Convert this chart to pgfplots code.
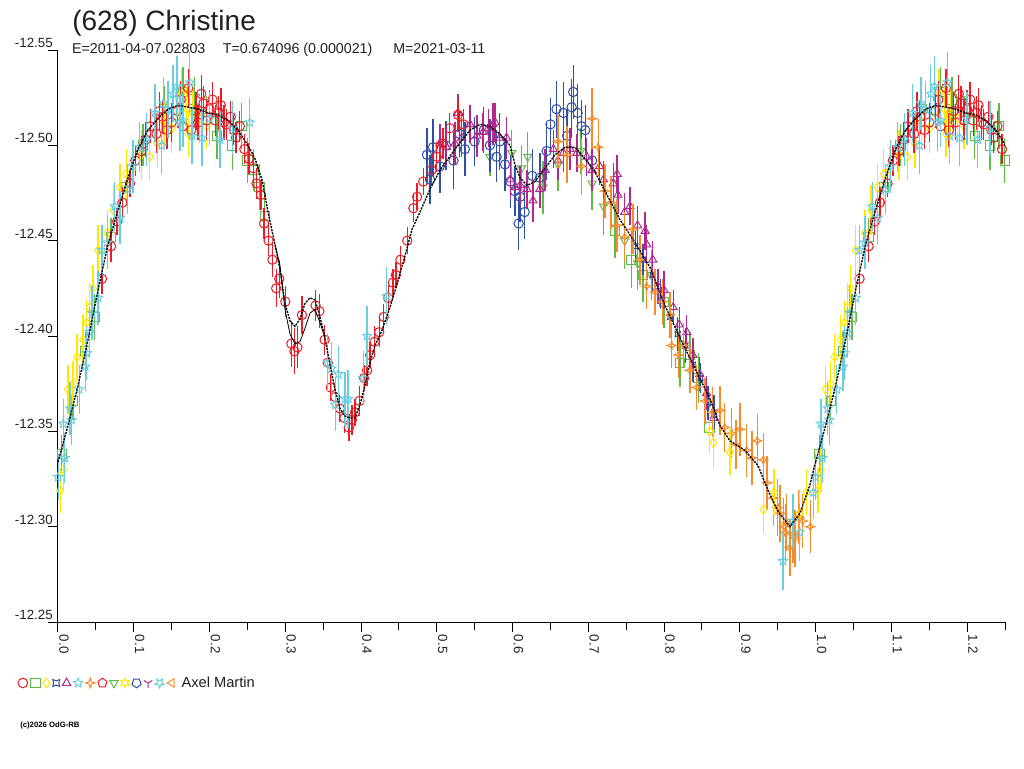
\documentclass[border=0pt]{standalone}
\usepackage{fontspec}
\setmainfont{Liberation Sans}
\usepackage{pgfplots}
\usepackage{pgfplotstable}
\pgfplotsset{compat=1.18}
\usetikzlibrary{plotmarks}

\definecolor{cred}{RGB}{237,28,36}
\definecolor{cgreen}{RGB}{96,187,70}
\definecolor{cyellow}{RGB}{255,232,0}
\definecolor{cblue}{RGB}{46,79,165}
\definecolor{cmag}{RGB}{178,40,140}
\definecolor{ccyan}{RGB}{107,204,222}
\definecolor{corange}{RGB}{247,139,42}
\definecolor{tdark}{RGB}{35,31,32}

\pgfdeclareplotmark{ostar}{%
  \pgfpathmoveto{\pgfpointpolar{90}{\pgfplotmarksize}}%
  \pgfpathlineto{\pgfpointpolar{126}{0.45\pgfplotmarksize}}%
  \pgfpathlineto{\pgfpointpolar{162}{\pgfplotmarksize}}%
  \pgfpathlineto{\pgfpointpolar{198}{0.45\pgfplotmarksize}}%
  \pgfpathlineto{\pgfpointpolar{234}{\pgfplotmarksize}}%
  \pgfpathlineto{\pgfpointpolar{270}{0.45\pgfplotmarksize}}%
  \pgfpathlineto{\pgfpointpolar{306}{\pgfplotmarksize}}%
  \pgfpathlineto{\pgfpointpolar{342}{0.45\pgfplotmarksize}}%
  \pgfpathlineto{\pgfpointpolar{18}{\pgfplotmarksize}}%
  \pgfpathlineto{\pgfpointpolar{54}{0.45\pgfplotmarksize}}%
  \pgfpathclose\pgfusepathqstroke}
\pgfdeclareplotmark{fstar}{%
  \pgfpathmoveto{\pgfpointpolar{90}{\pgfplotmarksize}}%
  \pgfpathlineto{\pgfpointpolar{135}{0.35\pgfplotmarksize}}%
  \pgfpathlineto{\pgfpointpolar{180}{\pgfplotmarksize}}%
  \pgfpathlineto{\pgfpointpolar{225}{0.35\pgfplotmarksize}}%
  \pgfpathlineto{\pgfpointpolar{270}{\pgfplotmarksize}}%
  \pgfpathlineto{\pgfpointpolar{315}{0.35\pgfplotmarksize}}%
  \pgfpathlineto{\pgfpointpolar{0}{\pgfplotmarksize}}%
  \pgfpathlineto{\pgfpointpolar{45}{0.35\pgfplotmarksize}}%
  \pgfpathclose\pgfusepathqstroke}
\pgfdeclareplotmark{sstar}{%
  \pgfpathmoveto{\pgfpointpolar{90}{\pgfplotmarksize}}%
  \pgfpathlineto{\pgfpointpolar{120}{0.5\pgfplotmarksize}}%
  \pgfpathlineto{\pgfpointpolar{150}{\pgfplotmarksize}}%
  \pgfpathlineto{\pgfpointpolar{180}{0.5\pgfplotmarksize}}%
  \pgfpathlineto{\pgfpointpolar{210}{\pgfplotmarksize}}%
  \pgfpathlineto{\pgfpointpolar{240}{0.5\pgfplotmarksize}}%
  \pgfpathlineto{\pgfpointpolar{270}{\pgfplotmarksize}}%
  \pgfpathlineto{\pgfpointpolar{300}{0.5\pgfplotmarksize}}%
  \pgfpathlineto{\pgfpointpolar{330}{\pgfplotmarksize}}%
  \pgfpathlineto{\pgfpointpolar{0}{0.5\pgfplotmarksize}}%
  \pgfpathlineto{\pgfpointpolar{30}{\pgfplotmarksize}}%
  \pgfpathlineto{\pgfpointpolar{60}{0.5\pgfplotmarksize}}%
  \pgfpathclose\pgfusepathqstroke}
\pgfdeclareplotmark{hglass}{%
  \pgfpathmoveto{\pgfpointpolar{45}{\pgfplotmarksize}}%
  \pgfpathlineto{\pgfpointpolar{90}{0.45\pgfplotmarksize}}%
  \pgfpathlineto{\pgfpointpolar{135}{\pgfplotmarksize}}%
  \pgfpathlineto{\pgfpointpolar{180}{0.55\pgfplotmarksize}}%
  \pgfpathlineto{\pgfpointpolar{225}{\pgfplotmarksize}}%
  \pgfpathlineto{\pgfpointpolar{270}{0.45\pgfplotmarksize}}%
  \pgfpathlineto{\pgfpointpolar{315}{\pgfplotmarksize}}%
  \pgfpathlineto{\pgfpointpolar{0}{0.55\pgfplotmarksize}}%
  \pgfpathclose\pgfusepathqstroke}

% ---------------- data: phase, magnitude, error ----------------
\pgfplotstableread{
x y e
0.058 -12.430 0.008
0.070 -12.447 0.008
0.078 -12.460 0.007
0.085 -12.470 0.008
0.095 -12.480 0.007
0.102 -12.492 0.008
0.110 -12.497 0.008
0.116 -12.503 0.009
0.122 -12.510 0.009
0.130 -12.506 0.010
0.134 -12.518 0.010
0.138 -12.515 0.009
0.144 -12.508 0.010
0.150 -12.512 0.010
0.158 -12.518 0.009
0.162 -12.524 0.010
0.165 -12.510 0.010
0.172 -12.530 0.010
0.176 -12.508 0.009
0.182 -12.518 0.010
0.185 -12.512 0.009
0.189 -12.527 0.010
0.192 -12.522 0.009
0.196 -12.513 0.010
0.200 -12.519 0.010
0.204 -12.524 0.009
0.208 -12.513 0.008
0.212 -12.517 0.009
0.215 -12.521 0.009
0.219 -12.512 0.009
0.222 -12.511 0.008
0.228 -12.515 0.008
0.232 -12.508 0.008
0.235 -12.504 0.008
0.240 -12.510 0.008
0.246 -12.498 0.008
0.252 -12.493 0.008
0.258 -12.488 0.008
0.262 -12.480 0.008
0.268 -12.474 0.008
0.272 -12.459 0.008
0.278 -12.450 0.008
0.283 -12.440 0.009
0.288 -12.425 0.010
0.292 -12.430 0.010
0.300 -12.418 0.008
0.308 -12.396 0.012
0.312 -12.392 0.012
0.316 -12.394 0.011
0.322 -12.411 0.010
0.340 -12.416 0.008
0.345 -12.413 0.009
0.352 -12.398 0.008
0.356 -12.386 0.008
0.360 -12.373 0.007
0.366 -12.368 0.008
0.372 -12.362 0.007
0.378 -12.357 0.008
0.384 -12.352 0.007
0.388 -12.356 0.008
0.392 -12.360 0.007
0.398 -12.366 0.008
0.404 -12.378 0.007
0.408 -12.382 0.008
0.412 -12.390 0.007
0.418 -12.397 0.008
0.424 -12.402 0.008
0.430 -12.410 0.007
0.436 -12.420 0.007
0.442 -12.428 0.007
0.446 -12.432 0.007
0.452 -12.440 0.007
0.461 -12.450 0.007
0.469 -12.467 0.007
0.474 -12.473 0.007
0.482 -12.481 0.007
0.493 -12.487 0.008
0.500 -12.494 0.008
0.508 -12.501 0.008
0.517 -12.509 0.008
0.528 -12.516 0.008
0.535 -12.511 0.008
}\tRed

\pgfplotstableread{
x y e
0.005 -12.338 0.010
0.020 -12.366 0.010
0.036 -12.392 0.010
0.048 -12.410 0.012
0.070 -12.452 0.010
0.090 -12.478 0.010
0.112 -12.500 0.011
0.140 -12.519 0.012
0.165 -12.528 0.013
0.180 -12.524 0.012
0.196 -12.514 0.012
0.210 -12.505 0.012
0.230 -12.500 0.013
0.242 -12.510 0.012
0.250 -12.492 0.012
0.258 -12.487 0.011
0.266 -12.478 0.012
0.273 -12.463 0.013
}\tGreen

\pgfplotstableread{
x y e
0.735 -12.455 0.014
0.757 -12.440 0.015
0.772 -12.432 0.014
0.800 -12.418 0.014
0.821 -12.386 0.013
0.834 -12.390 0.012
0.845 -12.378 0.013
0.860 -12.352 0.012
}\tGreenB

\pgfplotstableread{
x y e
0.570 -12.494 0.010
0.599 -12.496 0.012
0.612 -12.488 0.012
0.620 -12.494 0.013
0.640 -12.478 0.014
0.660 -12.490 0.014
0.690 -12.497 0.012
0.705 -12.480 0.014
0.720 -12.468 0.015
0.748 -12.450 0.015
0.765 -12.438 0.014
0.783 -12.432 0.013
}\tGreenT

\pgfplotstableread{
x y e
0.487 -12.495 0.014
0.491 -12.482 0.013
0.495 -12.499 0.015
0.504 -12.489 0.014
0.512 -12.500 0.013
0.522 -12.492 0.015
0.530 -12.506 0.012
0.537 -12.498 0.014
0.550 -12.502 0.013
0.562 -12.508 0.012
0.570 -12.500 0.014
0.579 -12.494 0.013
0.583 -12.502 0.015
0.590 -12.490 0.014
0.597 -12.481 0.014
0.603 -12.476 0.013
0.608 -12.459 0.014
0.610 -12.473 0.013
0.616 -12.465 0.014
0.626 -12.484 0.014
0.636 -12.483 0.013
0.645 -12.497 0.015
0.650 -12.511 0.014
0.658 -12.519 0.015
0.667 -12.517 0.016
0.672 -12.505 0.014
0.678 -12.520 0.015
0.680 -12.528 0.014
0.686 -12.517 0.015
0.691 -12.510 0.014
0.696 -12.508 0.013
0.705 -12.492 0.013
}\tBlue

\pgfplotstableread{
x y e
0.762 -12.447 0.008
0.772 -12.440 0.008
0.785 -12.432 0.009
0.795 -12.422 0.008
0.808 -12.410 0.008
0.818 -12.401 0.009
0.828 -12.395 0.009
0.838 -12.385 0.009
0.848 -12.378 0.008
0.858 -12.365 0.009
0.866 -12.360 0.009
}\tBlueB

\pgfplotstableread{
x y e
0.504 -12.501 0.010
0.513 -12.499 0.010
0.524 -12.501 0.011
0.528 -12.517 0.010
0.533 -12.504 0.010
0.544 -12.511 0.010
0.553 -12.505 0.011
0.561 -12.507 0.010
0.568 -12.509 0.010
0.574 -12.511 0.011
0.577 -12.512 0.010
0.583 -12.504 0.010
0.592 -12.504 0.011
0.597 -12.482 0.010
0.604 -12.478 0.010
0.610 -12.479 0.010
0.619 -12.477 0.010
0.627 -12.471 0.011
0.636 -12.477 0.010
0.643 -12.487 0.011
0.654 -12.498 0.010
0.660 -12.492 0.010
0.667 -12.496 0.010
0.676 -12.498 0.011
0.685 -12.496 0.010
0.698 -12.494 0.010
0.705 -12.487 0.011
0.715 -12.489 0.010
0.720 -12.482 0.010
0.733 -12.480 0.011
0.738 -12.485 0.010
0.739 -12.474 0.010
0.748 -12.465 0.010
0.755 -12.468 0.010
0.765 -12.458 0.010
0.775 -12.455 0.010
0.777 -12.448 0.010
0.785 -12.440 0.010
0.792 -12.426 0.009
0.800 -12.424 0.010
0.812 -12.415 0.009
0.820 -12.406 0.009
0.830 -12.402 0.009
0.838 -12.390 0.009
0.847 -12.380 0.009
0.856 -12.370 0.009
0.865 -12.357 0.009
}\tMag

\pgfplotstableread{
x y e
0.660 -12.502 0.014
0.672 -12.495 0.015
0.691 -12.489 0.015
0.705 -12.514 0.016
0.713 -12.499 0.015
0.722 -12.476 0.014
0.730 -12.470 0.014
0.738 -12.458 0.014
0.748 -12.452 0.013
0.759 -12.456 0.013
0.768 -12.440 0.013
0.777 -12.426 0.012
0.788 -12.423 0.012
0.798 -12.418 0.012
0.808 -12.411 0.012
0.810 -12.395 0.012
0.819 -12.390 0.012
0.826 -12.395 0.012
0.834 -12.382 0.012
0.843 -12.373 0.012
0.854 -12.366 0.012
0.864 -12.360 0.013
0.874 -12.361 0.013
0.880 -12.352 0.013
0.889 -12.349 0.013
0.895 -12.343 0.013
0.900 -12.351 0.014
0.909 -12.340 0.014
0.916 -12.336 0.014
0.923 -12.345 0.014
0.931 -12.335 0.014
0.936 -12.323 0.014
0.944 -12.315 0.014
0.950 -12.310 0.015
0.953 -12.307 0.015
0.958 -12.300 0.015
0.960 -12.297 0.015
0.962 -12.302 0.015
0.966 -12.289 0.015
0.970 -12.296 0.015
0.973 -12.294 0.015
0.978 -12.305 0.014
0.983 -12.303 0.014
0.993 -12.300 0.014
}\tOrange

\pgfplotstableread{
x y e
0.003 -12.319 0.012
0.007 -12.330 0.012
0.013 -12.372 0.013
0.020 -12.375 0.012
0.025 -12.389 0.012
0.033 -12.398 0.013
0.038 -12.407 0.012
0.042 -12.415 0.013
0.046 -12.425 0.012
0.053 -12.445 0.013
0.065 -12.454 0.012
0.073 -12.466 0.013
0.082 -12.478 0.012
0.090 -12.485 0.013
0.098 -12.487 0.012
0.110 -12.495 0.013
0.121 -12.494 0.012
0.131 -12.501 0.013
0.140 -12.512 0.012
0.150 -12.509 0.013
0.161 -12.515 0.012
0.163 -12.527 0.013
0.170 -12.519 0.012
0.172 -12.506 0.012
0.178 -12.517 0.013
0.187 -12.514 0.012
0.196 -12.510 0.012
}\tYellow

\pgfplotstableread{
x y e
0.860 -12.350 0.012
0.865 -12.344 0.013
0.887 -12.339 0.012
0.931 -12.309 0.013
0.945 -12.318 0.012
0.979 -12.307 0.013
0.988 -12.318 0.012
}\tYellowB

\pgfplotstableread{
x y e
0.000 -12.326 0.012
0.007 -12.354 0.013
0.009 -12.336 0.013
0.016 -12.362 0.014
0.018 -12.356 0.013
0.028 -12.372 0.013
0.036 -12.384 0.013
0.038 -12.391 0.014
0.042 -12.402 0.013
0.045 -12.412 0.014
0.053 -12.420 0.014
0.058 -12.445 0.013
0.065 -12.449 0.014
0.075 -12.468 0.013
0.082 -12.462 0.014
0.092 -12.477 0.013
0.099 -12.489 0.014
0.108 -12.499 0.013
0.117 -12.503 0.014
0.128 -12.517 0.015
0.137 -12.500 0.015
0.139 -12.522 0.014
0.145 -12.519 0.015
0.152 -12.527 0.015
0.157 -12.531 0.016
0.161 -12.512 0.015
0.165 -12.513 0.014
0.174 -12.533 0.016
0.177 -12.505 0.015
0.190 -12.504 0.015
0.200 -12.514 0.014
0.214 -12.503 0.015
0.230 -12.509 0.014
0.253 -12.512 0.013
}\tCyan

\pgfplotstableread{
x y e
0.356 -12.386 0.015
0.361 -12.383 0.014
0.366 -12.364 0.014
0.370 -12.380 0.015
0.379 -12.367 0.014
0.383 -12.367 0.015
0.403 -12.378 0.014
0.408 -12.400 0.016
0.434 -12.421 0.015
0.957 -12.282 0.015
0.970 -12.303 0.014
0.979 -12.297 0.015
0.997 -12.318 0.014
}\tCyanB

\pgfplotstableread{
x y
0.0000 -12.334
0.0132 -12.353
0.0264 -12.374
0.0396 -12.398
0.0528 -12.424
0.0660 -12.448
0.0792 -12.466
0.0924 -12.483
0.1056 -12.498
0.1188 -12.508
0.1320 -12.514
0.1452 -12.519
0.1584 -12.521
0.1716 -12.520
0.1848 -12.519
0.1980 -12.517
0.2112 -12.516
0.2244 -12.513
0.2376 -12.508
0.2508 -12.500
0.2600 -12.493
0.2693 -12.482
0.2772 -12.465
0.2864 -12.448
0.2930 -12.435
0.2996 -12.417
0.3062 -12.408
0.3128 -12.405
0.3194 -12.409
0.3260 -12.417
0.3326 -12.420
0.3392 -12.419
0.3458 -12.410
0.3524 -12.399
0.3590 -12.385
0.3656 -12.372
0.3722 -12.362
0.3788 -12.358
0.3854 -12.357
0.3920 -12.357
0.3986 -12.364
0.4052 -12.374
0.4118 -12.386
0.4184 -12.395
0.4277 -12.403
0.4382 -12.415
0.4488 -12.429
0.4580 -12.442
0.4673 -12.456
0.4778 -12.465
0.4910 -12.477
0.5042 -12.487
0.5240 -12.498
0.5438 -12.508
0.5570 -12.511
0.5702 -12.510
0.5834 -12.506
0.5966 -12.500
0.6032 -12.490
0.6098 -12.483
0.6191 -12.479
0.6296 -12.481
0.6428 -12.488
0.6560 -12.495
0.6692 -12.499
0.6824 -12.499
0.6956 -12.493
0.7088 -12.486
0.7220 -12.476
0.7418 -12.461
0.7616 -12.449
0.7814 -12.436
0.8012 -12.416
0.8210 -12.399
0.8408 -12.383
0.8606 -12.367
0.8738 -12.353
0.8870 -12.345
0.9068 -12.340
0.9240 -12.332
0.9372 -12.319
0.9504 -12.308
0.9662 -12.300
0.9794 -12.307
0.9926 -12.322
1.0000 -12.334
}\tFit

\pgfplotstableread{
x y
0.2864 -12.448
0.2930 -12.437
0.2996 -12.414
0.3062 -12.401
0.3128 -12.396
0.3194 -12.397
0.3260 -12.404
0.3326 -12.412
0.3392 -12.414
0.3458 -12.407
0.3524 -12.399
}\tFitB

\pgfplotsset{
  obs/.style={only marks, line width=0.75pt, mark size=3.5pt,
    mark options={solid, line width=0.75pt},
    error bars/y dir=both, error bars/y explicit, error bars/error mark=none,
    error bars/error bar style={line width=1pt, solid}},
  wrap/.style={restrict x to domain=1:1.252},
  limg/.style={only marks, mark size=3.6pt, line width=0.75pt, mark options={solid}},
}

\begin{document}
\begin{tikzpicture}
\path[use as bounding box] (0,0) rectangle (768pt,576pt);
\begin{axis}[
  at={(43.5pt,109.5pt)}, anchor=south west,
  scale only axis, width=710.25pt, height=429pt,
  xmin=0, xmax=1.25, ymin=-12.55, ymax=-12.25,
  y dir=reverse,
  axis x line*=bottom, axis y line*=left,
  axis line style={-, line width=0.75pt, black},
  tick align=outside,
  major tick length=7.5pt, minor tick length=6pt,
  tick style={line width=0.75pt, black},
  xtick={0,0.1,0.2,0.3,0.4,0.5,0.6,0.7,0.8,0.9,1.0,1.1,1.2},
  xticklabels={0.0,0.1,0.2,0.3,0.4,0.5,0.6,0.7,0.8,0.9,1.0,1.1,1.2},
  minor xtick={0.05,0.15,0.25,0.35,0.45,0.55,0.65,0.75,0.85,0.95,1.05,1.15,1.25},
  ytick={-12.55,-12.5,-12.45,-12.4,-12.35,-12.3,-12.25},
  yticklabels={-12.55,-12.50,-12.45,-12.40,-12.35,-12.30,-12.25},
  xticklabel style={font=\fontsize{10}{10}\selectfont, text=tdark, inner sep=0pt,
     xshift=4.5pt, yshift=-2pt, rotate=-90, anchor=west},
  yticklabel style={font=\fontsize{10}{10}\selectfont, text=tdark, inner sep=0pt,
     anchor=south east, xshift=3.75pt, yshift=1.5pt},
  legend style={draw=none, fill=none, at={(axis description cs:-0.0422,-0.1066)},
     anchor=west, inner sep=0pt, outer sep=0pt,
     nodes={inner sep=0pt, font=\fontsize{11}{11}\selectfont, text=tdark},
     /tikz/every odd column/.style={column sep=0pt},
     /tikz/every even column/.style={column sep=1.1pt}},
  legend columns=-1,
  legend image code/.code={\draw[#1] plot coordinates {(0pt,0pt)};},
  clip mode=individual,
]
% legend images
\addlegendimage{limg, cred, mark=o}
\addlegendimage{limg, cgreen, mark=square}
\addlegendimage{limg, cyellow, mark=diamond}
\addlegendimage{limg, cblue, mark=hglass}
\addlegendimage{limg, cmag, mark=triangle}
\addlegendimage{limg, ccyan, mark=ostar}
\addlegendimage{limg, corange, mark=fstar}
\addlegendimage{limg, cred, mark=pentagon}
\addlegendimage{limg, cgreen, mark=triangle, mark options={rotate=180}}
\addlegendimage{limg, cyellow, mark=sstar}
\addlegendimage{limg, cblue, mark=pentagon, mark options={rotate=180}}
\addlegendimage{limg, cmag, mark=Mercedes star flipped}
\addlegendimage{limg, ccyan, mark=ostar, mark options={rotate=180}}
\addlegendimage{limg, corange, mark=triangle, mark options={rotate=90}}
\legend{\mbox{},\mbox{},\mbox{},\mbox{},\mbox{},\mbox{},\mbox{},\mbox{},\mbox{},\mbox{},\mbox{},\mbox{},\mbox{},\hspace{5.5pt}Axel Martin}

% observations
\addplot[obs, color=cgreen, mark=square, forget plot] table[x=x,y=y,y error=e]{\tGreen};
\addplot[obs, color=cgreen, mark=square, wrap, forget plot] table[x expr=\thisrow{x}+1,y=y,y error=e]{\tGreen};
\addplot[obs, color=cgreen, mark=square, forget plot] table[x=x,y=y,y error=e]{\tGreenB};
\addplot[obs, color=cgreen, mark=triangle, mark options={rotate=180}, forget plot] table[x=x,y=y,y error=e]{\tGreenT};
\addplot[obs, color=cblue, mark=o, forget plot] table[x=x,y=y,y error=e]{\tBlue};
\addplot[obs, color=cblue, mark=hglass, mark size=2.8pt, forget plot] table[x=x,y=y,y error=e]{\tBlueB};
\addplot[obs, color=cmag, mark=triangle, forget plot] table[x=x,y=y,y error=e]{\tMag};
\addplot[obs, color=corange, mark=fstar, forget plot] table[x=x,y=y,y error=e]{\tOrange};
\addplot[obs, color=cyellow, mark=diamond, forget plot] table[x=x,y=y,y error=e]{\tYellow};
\addplot[obs, color=cyellow, mark=diamond, wrap, forget plot] table[x expr=\thisrow{x}+1,y=y,y error=e]{\tYellow};
\addplot[obs, color=cyellow, mark=diamond, forget plot] table[x=x,y=y,y error=e]{\tYellowB};
\addplot[obs, color=cred, mark=o, forget plot] table[x=x,y=y,y error=e]{\tRed};
\addplot[obs, color=cred, mark=o, wrap, forget plot] table[x expr=\thisrow{x}+1,y=y,y error=e]{\tRed};
\addplot[obs, color=ccyan, mark=ostar, forget plot] table[x=x,y=y,y error=e]{\tCyan};
\addplot[obs, color=ccyan, mark=ostar, wrap, forget plot] table[x expr=\thisrow{x}+1,y=y,y error=e]{\tCyan};
\addplot[obs, color=ccyan, mark=ostar, forget plot] table[x=x,y=y,y error=e]{\tCyanB};

% fitted curves
\addplot[black, line width=0.6pt, forget plot] table[x=x,y=y]{\tFitB};
\addplot[black, line width=1pt, dash pattern=on 1.6pt off 0.8pt, forget plot] table[x=x,y=y]{\tFit};
\addplot[black, line width=1pt, dash pattern=on 1.6pt off 0.8pt, restrict x to domain=1:1.252, forget plot] table[x expr=\thisrow{x}+1,y=y]{\tFit};
\end{axis}
\node[anchor=base west, inner sep=0pt, text=tdark, font=\fontsize{21}{21}\selectfont] at (54pt,552.75pt) {(628) Christine};
\node[anchor=base west, inner sep=0pt, text=tdark, font=\fontsize{10.7}{11}\selectfont] at (53.8pt,535.5pt) {E=2011-04-07.02803};
\node[anchor=base west, inner sep=0pt, text=tdark, font=\fontsize{10.7}{11}\selectfont] at (167pt,535.5pt) {T=0.674096 (0.000021)};
\node[anchor=base west, inner sep=0pt, text=tdark, font=\fontsize{10.7}{11}\selectfont] at (294.75pt,535.5pt) {M=2021-03-11};
\node[anchor=base west, inner sep=0pt, text=black, font=\fontsize{5.8}{6}\selectfont\bfseries] at (15pt,30.75pt) {(c)2026 OdG-RB};
\end{tikzpicture}
\end{document}
